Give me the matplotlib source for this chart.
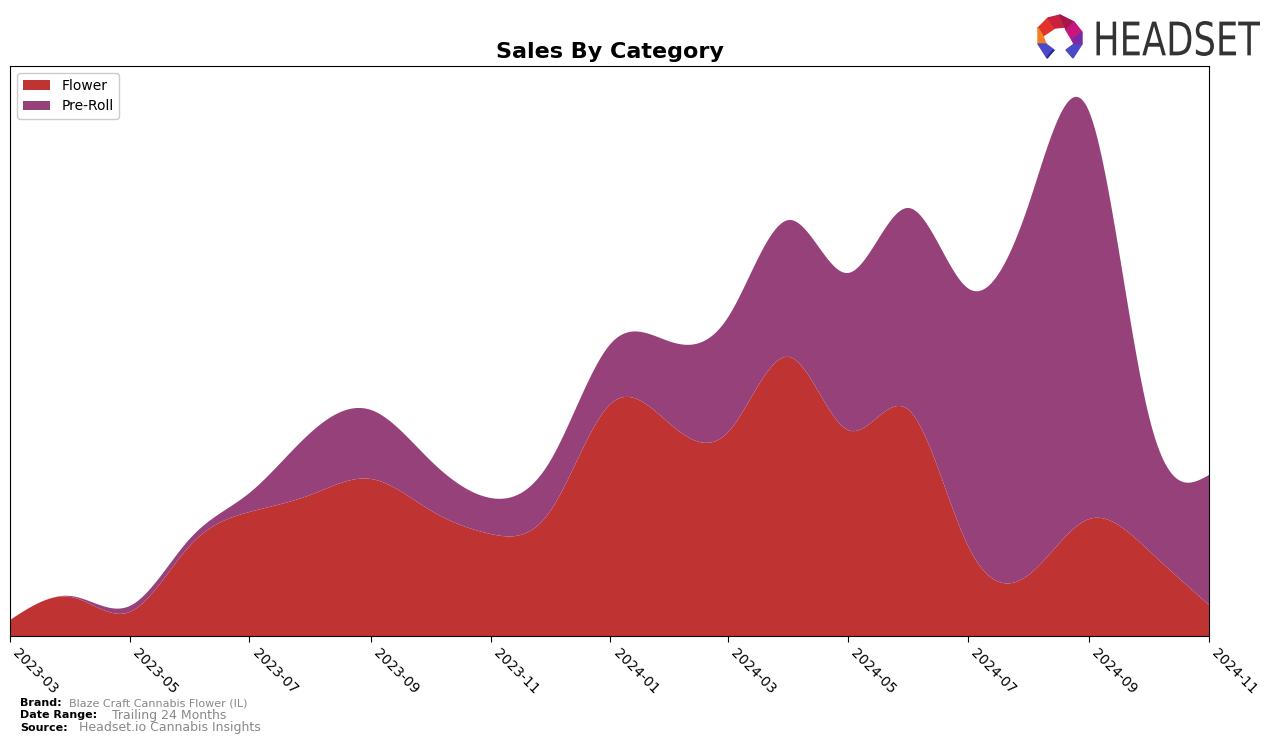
import numpy as np
import pandas as pd
import matplotlib
matplotlib.use("Agg")
import matplotlib.pyplot as plt
import matplotlib.dates as mdates
from matplotlib.patches import Polygon, PathPatch
from matplotlib.textpath import TextPath
from matplotlib.font_manager import FontProperties
from matplotlib.path import Path

# ---- data (monthly, arbitrary sales units) ----
months = ["2023-03", "2023-04", "2023-05", "2023-06", "2023-07", "2023-08", "2023-09",
          "2023-10", "2023-11", "2023-12", "2024-01", "2024-02", "2024-03", "2024-04",
          "2024-05", "2024-06", "2024-07", "2024-08", "2024-09", "2024-10", "2024-11"]
flower = [16, 39, 24, 91, 124, 141, 157, 126, 102, 124, 232, 211, 204, 279,
          206, 226, 91, 61, 117, 86, 31]
preroll = [0, 1, 6, 7, 19, 62, 69, 50, 36, 50, 60, 83, 115, 137,
           157, 202, 257, 370, 407, 137, 130]
categories = ["Flower", "Pre-Roll"]
colors = ["#c03333", "#964179"]
tick_labels = ["2023-03", "2023-05", "2023-07", "2023-09", "2023-11", "2024-01",
               "2024-03", "2024-05", "2024-07", "2024-09", "2024-11"]


def natural_spline(x, y, xs):
    x = np.asarray(x, float)
    y = np.asarray(y, float)
    n = len(x)
    h = np.diff(x)
    A = np.zeros((n, n))
    b = np.zeros(n)
    A[0, 0] = 1
    A[-1, -1] = 1
    for i in range(1, n - 1):
        A[i, i - 1] = h[i - 1]
        A[i, i] = 2 * (h[i - 1] + h[i])
        A[i, i + 1] = h[i]
        b[i] = 6 * ((y[i + 1] - y[i]) / h[i] - (y[i] - y[i - 1]) / h[i - 1])
    M = np.linalg.solve(A, b)
    idx = np.clip(np.searchsorted(x, xs) - 1, 0, n - 2)
    x0, x1 = x[idx], x[idx + 1]
    hh = x1 - x0
    t0 = x1 - xs
    t1 = xs - x0
    return (M[idx] * t0 ** 3 / (6 * hh) + M[idx + 1] * t1 ** 3 / (6 * hh)
            + (y[idx] / hh - M[idx] * hh / 6) * t0
            + (y[idx + 1] / hh - M[idx + 1] * hh / 6) * t1)


dates = pd.to_datetime(months)
xnum = mdates.date2num(dates)
xs = np.linspace(xnum[0], xnum[-1], 1500)
f_s = np.clip(natural_spline(xnum, flower, xs), 0, None)
p_s = np.clip(natural_spline(xnum, preroll, xs), 0, None)

W, H = 1276, 744
fig = plt.figure(figsize=(W / 100, H / 100), dpi=100)
ax = fig.add_axes([10 / W, 1 - 636 / H, 1199 / W, 570 / H])
ax.stackplot(mdates.num2date(xs), f_s, p_s, labels=categories, colors=colors)
ax.set_xlim(xnum[0], xnum[-1])
ax.set_ylim(0, 570)
ax.set_yticks([])
ax.set_xticks(mdates.date2num(pd.to_datetime(tick_labels)))
ax.set_xticklabels(tick_labels, rotation=-45, ha="left", fontsize=10)
ax.tick_params(axis="x", length=4)
ax.set_title("Sales By Category", fontsize=16, fontweight="bold", pad=6)
ax.legend(loc="upper left", fontsize=10, framealpha=1)

# footer
fig.text(20 / W, 1 - 703 / H, "Brand:", fontsize=8, fontweight="bold", va="center")
fig.text(69 / W, 1 - 703 / H, "Blaze Craft Cannabis Flower (IL)", fontsize=8, color="#888888", va="center")
fig.text(20 / W, 1 - 715 / H, "Date Range:", fontsize=8, fontweight="bold", va="center")
fig.text(112 / W, 1 - 715 / H, "Trailing 24 Months", fontsize=9, color="#888888", va="center")
fig.text(20 / W, 1 - 728 / H, "Source:", fontsize=8, fontweight="bold", va="center")
fig.text(79 / W, 1 - 728 / H, "Headset.io Cannabis Insights", fontsize=9, color="#888888", va="center")

# logo text, fitted into box (x 1093..1260, y 21..56 px from top)
tp = TextPath((0, 0), "HEADSET", size=1, prop=FontProperties(family="DejaVu Sans"))
v = tp.vertices
x0, y0 = v.min(axis=0)
x1, y1 = v.max(axis=0)
bx0, bx1, by_top, by_bot = 1093, 1260, 21, 56
nx = (bx0 + (v[:, 0] - x0) / (x1 - x0) * (bx1 - bx0)) / W
ny = (1 - by_bot / H) + (v[:, 1] - y0) / (y1 - y0) * ((by_bot - by_top) / H)
fig.patches.append(PathPatch(Path(np.column_stack([nx, ny]), tp.codes),
                             transform=fig.transFigure, color="#333333", lw=0))

lx, ly = 1060, 38
def P(pts, c):
    fig.patches.append(Polygon([((lx + a) / W, 1 - (ly + b) / H) for a, b in pts],
                               closed=True, transform=fig.transFigure, color=c))
P([(-22, -10), (-12, -20), (-5, -10), (-17, -2)], "#e2322b")
P([(-12, -20), (0, -23), (5, -11), (-5, -10)], "#c8203f")
P([(0, -23), (14, -16), (6, -8), (5, -11)], "#a5164b")
P([(14, -16), (22, -6), (12, 2), (6, -8)], "#c7177e")
P([(-22, -10), (-17, -2), (-14, 6), (-22, 6)], "#f07f22")
P([(-22, 6), (-14, 6), (-6, 12), (-13, 20)], "#4a4ac8")
P([(-13, 20), (-6, 12), (-9, 14)], "#2a2a90")
P([(22, 6), (14, 6), (6, 12), (13, 20)], "#4a4ac8")
P([(22, -6), (22, 6), (14, 6), (12, 2)], "#7a2aa0")

fig.savefig("out.png", dpi=100)
